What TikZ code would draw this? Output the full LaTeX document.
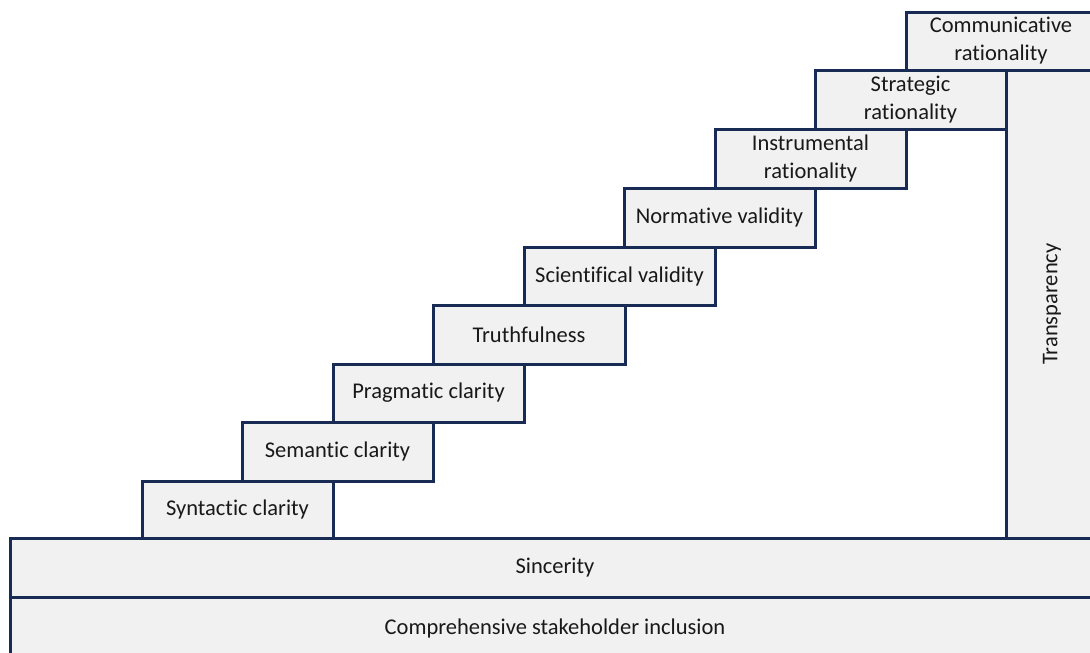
\documentclass[tikz,border=0pt]{standalone}
\usepackage{fontspec}
\setmainfont{Carlito}[Ligatures={NoCommon}]
\definecolor{edge}{HTML}{172B55}
\definecolor{boxfill}{HTML}{F1F1F1}
\begin{document}
\begin{tikzpicture}[x=1pt,y=-1pt,
  blk/.style={draw=edge,fill=boxfill,line width=3pt,rectangle,anchor=north west,inner sep=0pt,outer sep=0pt,
    align=center,font=\fontsize{22.5}{28}\selectfont,text=black!90},
]
\useasboundingbox (0,0) rectangle (1090,653);
\clip (0,0) rectangle (1090,653);
\node[blk,minimum width=1090pt,minimum height=62pt] (incl) at (10,597) {Comprehensive stakeholder inclusion};
\node[blk,minimum width=1090pt,minimum height=59pt] (sinc) at (10,538) {Sincerity};
\node[blk,minimum width=92pt,minimum height=468pt] (transp) at (1006,70) {};
\node[rotate=90,font=\fontsize{22.5}{28}\selectfont,text=black!90] (transpt) at (transp.center) {Transparency};
\node[blk,minimum width=191pt,minimum height=57pt] (syn) at (142,481) {Syntactic clarity};
\node[blk,minimum width=191pt,minimum height=59pt] (sem) at (242,422) {Semantic clarity};
\node[blk,minimum width=191pt,minimum height=58pt] (prag) at (333,364) {Pragmatic clarity};
\node[blk,minimum width=192pt,minimum height=59pt] (truth) at (433,305) {Truthfulness};
\node[blk,minimum width=191pt,minimum height=58pt] (sci) at (524,247) {Scientifical validity};
\node[blk,minimum width=191pt,minimum height=59pt] (norm) at (624,188) {Normative validity};
\node[blk,minimum width=191pt,minimum height=59pt] (instr) at (715,129) {Instrumental\\rationality};
\node[blk,minimum width=191pt,minimum height=59pt] (strat) at (815,70) {Strategic\\rationality};
\node[blk,minimum width=190pt,minimum height=58pt] (comm) at (906,12) {Communicative\\rationality};
\end{tikzpicture}
\end{document}
